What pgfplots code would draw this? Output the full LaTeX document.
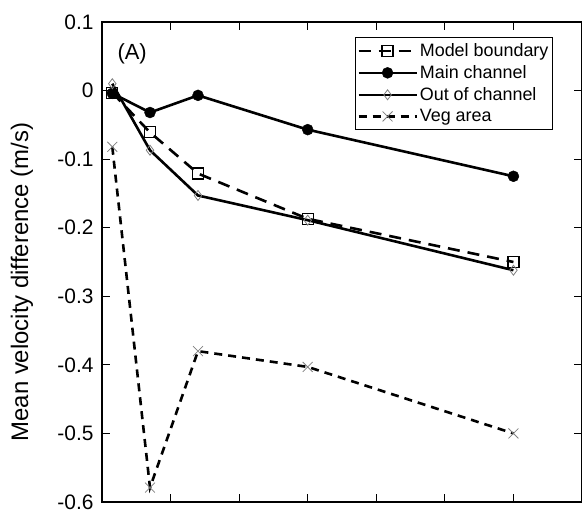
\documentclass[border=0pt]{standalone}
\usepackage{fontspec}
\setmainfont{Liberation Sans}
\usepackage{pgfplots}
\pgfplotsset{compat=1.18}
\begin{document}
\begin{tikzpicture}
\begin{axis}[
    scale only axis,
    width=480bp, height=480bp,
    xmin=0, xmax=7, ymin=-0.6, ymax=0.1,
    xtick={1,2,3,4,5,6}, xticklabels={},
    ytick={-0.6,-0.5,-0.4,-0.3,-0.2,-0.1,0,0.1},
    yticklabels={-0.6,-0.5,-0.4,-0.3,-0.2,-0.1,0,0.1},
    tick align=inside, major tick length=8bp,
    tick style={black, line width=1.2bp},
    axis line style={line width=1.5bp},
    yticklabel style={font=\fontsize{21}{25}\selectfont, xshift=-5bp},
    ylabel={Mean velocity difference (m/s)},
    every axis y label/.style={at={(axis description cs:0,0.458)}, xshift=-80bp,
        rotate=90, anchor=center, font=\fontsize{24}{29}\selectfont},
    legend style={at={(axis description cs:0.94,0.969)}, anchor=north east,
        draw=black, line width=1.5bp, font=\fontsize{18}{22}\selectfont,
        row sep=3.5bp, inner xsep=2bp, inner ysep=4bp},
    legend cell align=left,
    legend image code/.code={\draw[mark repeat=2,mark phase=2] plot coordinates {(0bp,0bp)(29bp,0bp)(58bp,0bp)};},
    clip=false,
]
% Model boundary
\addplot[black, line width=2.6bp, dash pattern=on 12bp off 8bp,
    mark=square, mark size=5.5bp, mark options={solid, line width=1.2bp}]
    coordinates {(0.15,-0.003) (0.7,-0.061) (1.4,-0.121) (3,-0.187) (6,-0.250)};
% Main channel
\addplot[black, line width=2.6bp, mark=*, mark size=5.5bp, mark options={solid, line width=0.4bp}]
    coordinates {(0.15,-0.004) (0.7,-0.032) (1.4,-0.007) (3,-0.057) (6,-0.125)};
% Out of channel
\addplot[black, line width=2.6bp, mark=diamond, mark size=5bp,
    mark options={solid, gray, line width=0.8bp}]
    coordinates {(0.15,0.010) (0.7,-0.087) (1.4,-0.153) (3,-0.189) (6,-0.262)};
% Veg area
\addplot[black, line width=2.6bp, dash pattern=on 8bp off 6bp,
    mark=x, mark size=7bp, mark options={solid, gray, line width=0.8bp}]
    coordinates {(0.15,-0.082) (0.7,-0.579) (1.4,-0.380) (3,-0.403) (6,-0.500)};
\legend{Model boundary, Main channel, Out of channel, Veg area}
\node[anchor=west, font=\fontsize{22}{26}\selectfont] at (axis description cs:0.025,0.933) {(A)};
\end{axis}
\pgfresetboundingbox
\path[use as bounding box] ([xshift=-102bp,yshift=-11bp]current axis.south west) rectangle ([yshift=22bp]current axis.north east);
\end{tikzpicture}
\end{document}
